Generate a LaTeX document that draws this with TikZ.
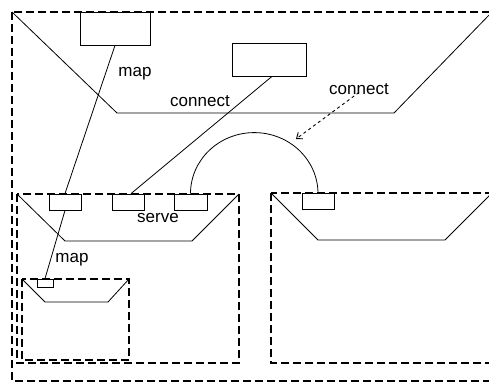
\documentclass[tikz,border=0pt]{standalone}
\usepackage{fontspec}
\setmainfont{Liberation Sans}
\usetikzlibrary{arrows.meta}
\begin{document}
\begin{tikzpicture}[x=1pt,y=-1pt,
  solidline/.style={line width=0.8pt},
  dashline/.style={line width=1.1pt, dash pattern=on 8pt off 4pt},
  portbox/.style={draw, line width=0.8pt, rectangle, inner sep=0pt, fill=white},
  lbl/.style={font=\fontsize{17}{20}\selectfont, anchor=base, inner sep=0pt}]
\useasboundingbox (0,0) rectangle (489,382);
\clip (0,0) rectangle (489,382);
% outer frame
\draw[dashline] (12,12) rectangle (500,381);
% top funnel
\draw[solidline] (12,12) -- (117,113) -- (394,113) -- (492,12);
% middle-left container
\draw[dashline] (17,194) rectangle (239,363);
\draw[solidline] (17,194) -- (65,241) -- (192,241) -- (239,194);
% inner container
\draw[dashline] (22,279) rectangle (129,360);
\draw[solidline] (22,279) -- (45,302) -- (108,302) -- (129,279);
% right container
\draw[dashline] (271,193) rectangle (500,363);
\draw[solidline] (271,193) -- (318,240) -- (445,240) -- (492,193);
% boxes
\node[portbox, minimum width=70pt, minimum height=33pt] (mbox) at (115,28.5) {};
\node[portbox, minimum width=74pt, minimum height=33pt] (cbox) at (269,59.5) {};
\node[portbox, minimum width=32pt, minimum height=16pt] (boxA) at (65,202) {};
\node[portbox, minimum width=32pt, minimum height=16pt] (boxB) at (128,202) {};
\node[portbox, minimum width=33pt, minimum height=16pt] (boxC) at (190.5,202) {};
\node[portbox, minimum width=32pt, minimum height=16pt] (boxD) at (318,201) {};
\node[portbox, minimum width=16pt, minimum height=8pt] (tiny) at (45,283) {};
% labels
\node[lbl] (map1) at (135,77) {map};
\node[lbl] (conn1) at (200,107) {connect};
\node[lbl] (conn2) at (359,95) {connect};
\node[lbl] (serve) at (158,222) {serve};
\node[lbl] (map2) at (72,262) {map};
% connectors
\draw[solidline] (mbox.south) -- (boxA.north);
\draw[solidline] ([xshift=3pt]cbox.south) -- ([xshift=3pt]boxB.north);
\draw[solidline] (boxA.south) -- (tiny.north);
\draw[solidline] (boxC.north) arc[start angle=180, end angle=360, x radius=63.75, y radius=61];
\coordinate (tip) at (296,139);
\draw[line width=0.9pt, dash pattern=on 3pt off 3pt, -{Straight Barb[length=5pt,width=8pt]}] ([yshift=3pt]conn2.south) -- (tip);
\end{tikzpicture}
\end{document}
